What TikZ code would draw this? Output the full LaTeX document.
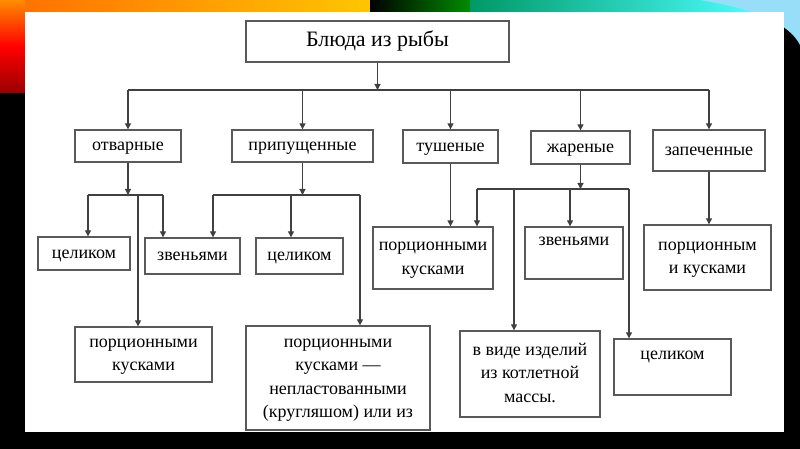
\documentclass[tikz,border=0pt]{standalone}
\usepackage{fontspec}
\setmainfont{Liberation Serif}
\usetikzlibrary{arrows.meta}
\usetikzlibrary{positioning}

\newcommand{\lines}[1]{\begin{tabular}{@{}c@{}}#1\end{tabular}}

\tikzset{
  box/.style={draw=black!65, line width=1.3pt, fill=white,
    inner sep=0pt, font=\fontsize{18}{23.5}\selectfont},
  line/.style={draw=black!75, line width=1.1pt},
  arr/.style={line, -{Triangle[length=6pt,width=6pt]}},
}

\begin{document}
\begin{tikzpicture}[x=1pt,y=-1pt]
\useasboundingbox (0,0) rectangle (800,449);
% slide background
\fill[black] (0,0) rectangle (800,449);
\shade[left color=orange!85!red, right color=yellow!55!orange] (0,0) rectangle (370,12);
\shade[left color=black, right color=green!55!black] (370,0) rectangle (470,12);
\shade[left color=teal!80!green, right color=cyan!70] (470,0) rectangle (760,12);
\fill[cyan!40] (700,0) -- (800,0) -- (800,45) .. controls (790,25) and (760,10) .. (700,0);
\shade[top color=orange!90!yellow, bottom color=red!60!black, middle color=red] (0,0) rectangle (25,93);
\fill[white] (25,12) rectangle (784,432);

% nodes
\node[box, minimum width=263, minimum height=41, font=\fontsize{22}{26}\selectfont] (dish) at (377.5,41.5) {\lines{Блюда из рыбы}};

\node[box, minimum width=106, minimum height=32] (boiled) at (128,146) {\lines{отварные}};
\node[box, minimum width=141, minimum height=32] (poached) at (302.5,146) {\lines{припущенные}};
\node[box, minimum width=95, minimum height=33] (stewed) at (450.5,146.5) {\lines{тушеные}};
\node[box, minimum width=99, minimum height=33] (fried) at (580.5,147.5) {\lines{жареные}};
\node[box, minimum width=112, minimum height=41] (baked) at (709,150.5) {\lines{запеченные}};

\node[box, minimum width=92, minimum height=33] (bWhole) at (84,253.5) {\lines{целиком}};
\node[box, minimum width=95, minimum height=36] (bLinks) at (192.5,256) {\lines{звеньями}};
\node[box, minimum width=137, minimum height=55] (bPortion) at (143.5,354.5) {\lines{порционными\\кусками}};
\node[box, minimum width=87, minimum height=36] (pWhole) at (299.5,256) {\lines{целиком}};
\node[box, minimum width=184, minimum height=104] (pPortion) at (338,378)
  {\lines{порционными\\кусками —\\непластованными\\(кругляшом) или из}};
\node[box, minimum width=120, minimum height=62] (sPortion) at (433,258) {\lines{порционными\\кусками}};
\node[box, minimum width=98, minimum height=52] (fLinks) at (574,253) {\lines{звеньями\\\mbox{}}};
\node[box, minimum width=140, minimum height=86] (fMince) at (530,374) {\lines{в виде изделий\\из котлетной\\массы.}};
\node[box, minimum width=117, minimum height=56] (fWhole) at (672.5,367) {\lines{целиком\\\mbox{}}};
\node[box, minimum width=127, minimum height=65] (kPortion) at (707.5,257.5) {\lines{порционным\\и кусками}};

% first level
\coordinate (bus) at (377.5,90);
\draw[arr] (dish) -- (bus);
\draw[line] (boiled.north |- bus) -- (baked.north |- bus);
\foreach \n in {boiled,poached,stewed,fried,baked}
  \draw[arr] (\n.north |- bus) -- (\n);

% boiled
\coordinate (bBus) at (128,195);
\coordinate (bL) at (88,195);
\coordinate (bM) at (138,195);
\coordinate (bR) at (163,195);
\draw[arr] (boiled) -- (bBus);
\draw[line] (bL) -- (bR);
\draw[arr] (bL) -- (bL |- bWhole.north);
\draw[arr] (bR) -- (bR |- bLinks.north);
\draw[arr] (bM) -- (bM |- bPortion.north);

% poached
\coordinate (pBus) at (302.5,195);
\coordinate (pL) at (213,195);
\coordinate (pM) at (291,195);
\coordinate (pR) at (360,195);
\draw[arr] (poached) -- (pBus);
\draw[line] (pL) -- (pR);
\draw[arr] (pL) -- (pL |- bLinks.north);
\draw[arr] (pM) -- (pM |- pWhole.north);
\draw[arr] (pR) -- (pR |- pPortion.north);

% stewed
\draw[arr] (stewed) -- (stewed |- sPortion.north);

% fried
\coordinate (fBus) at (580.5,189);
\coordinate (fL) at (477,189);
\coordinate (fA) at (514,189);
\coordinate (fB) at (570,189);
\coordinate (fR) at (629,189);
\draw[arr] (fried) -- (fBus);
\draw[line] (fL) -- (fR);
\draw[arr] (fL) -- (fL |- sPortion.north);
\draw[arr] (fA) -- (fA |- fMince.north);
\draw[arr] (fB) -- (fB |- fLinks.north);
\draw[arr] (fR) -- (fR |- fWhole.north);

% baked
\draw[arr] (baked) -- (baked |- kPortion.north);
\end{tikzpicture}
\end{document}
